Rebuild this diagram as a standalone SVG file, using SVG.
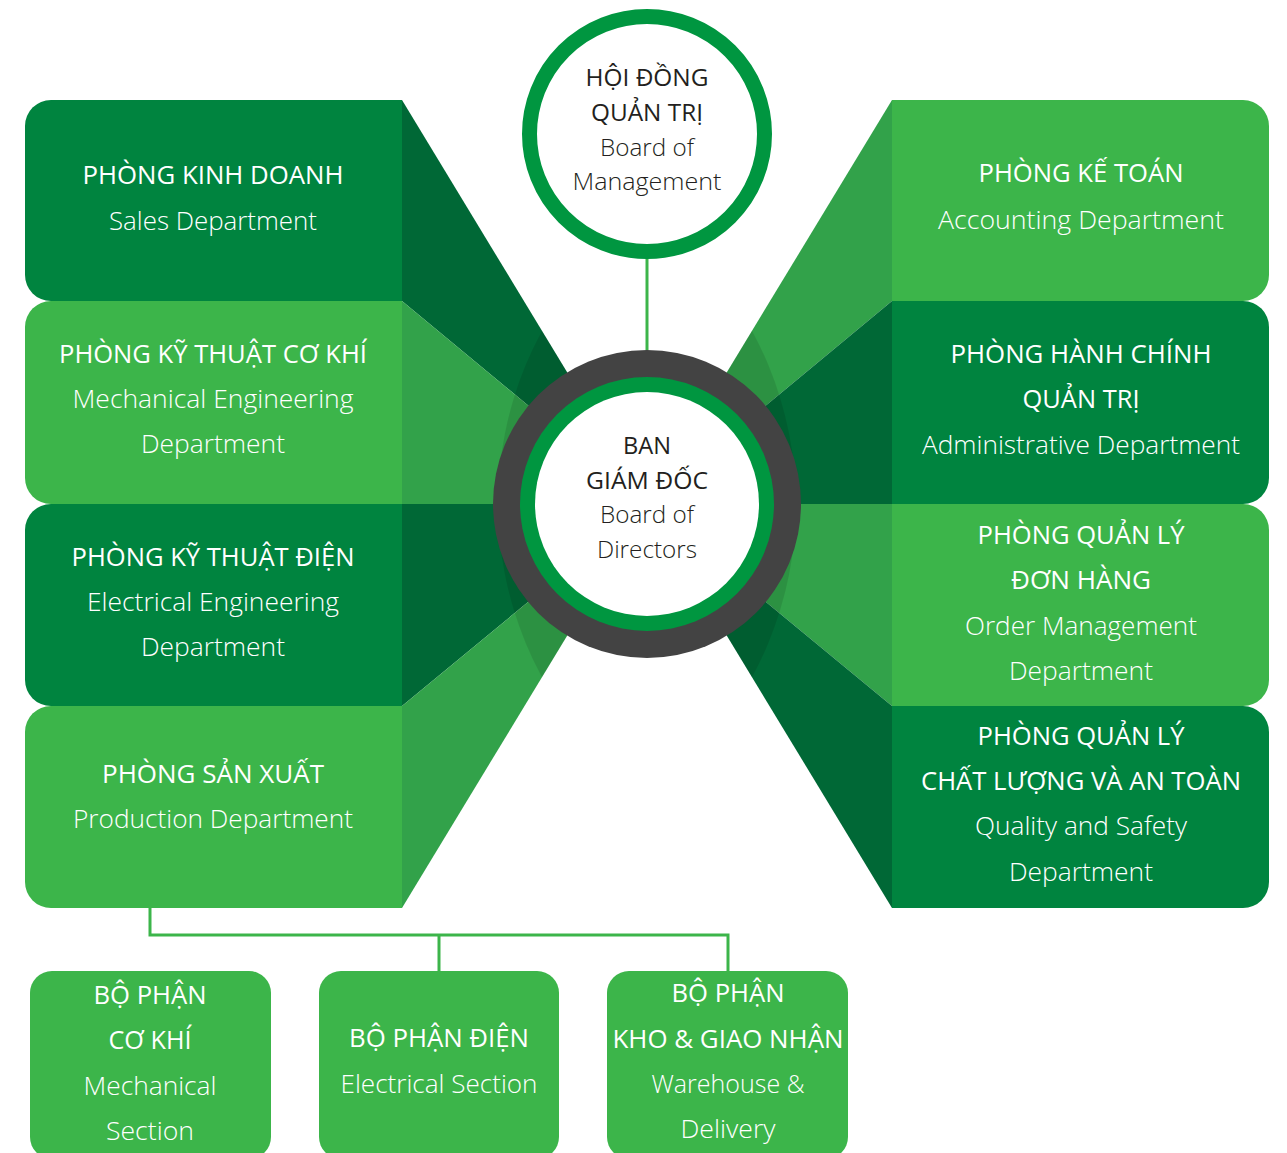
<svg xmlns="http://www.w3.org/2000/svg" width="1287" height="1153" viewBox="0 0 1287 1153">
<style>
.bd{fill:#00843f}
.bl{fill:#3cb54a}
.wd{fill:#006836}
.wl{fill:#32a24a}
.shade{fill:#000000;fill-opacity:0.1}
text{font-family:"Open Sans","Liberation Sans",sans-serif;text-anchor:middle}
.hw{fill:#ffffff;font-size:25px}
.ew{fill:#ffffff;font-size:25px;font-weight:300}
.hk{fill:#231f20;font-size:24px}
.ek{fill:#231f20;font-size:24px;font-weight:300}
.sh{fill:#ffffff;font-size:26px}
.se{fill:#ffffff;font-size:26px;font-weight:300}
.conn{stroke:#3cb54a;stroke-width:3;fill:none}
</style>
<defs>
<clipPath id="wl-clip">
<polygon points="402,100 402,908 647,504"/>
</clipPath>
<clipPath id="wr-clip">
<polygon points="892,100 892,908 647,504"/>
</clipPath>
</defs>

<g id="wedges-left">
<polygon class="wd" points="402,100 402,301 647,504"/>
<polygon class="wl" points="402,301 402,504 647,504"/>
<polygon class="wd" points="402,504 402,706 647,504"/>
<polygon class="wl" points="402,706 402,908 647,504"/>
<circle class="shade" cx="861" cy="504" r="363" clip-path="url(#wl-clip)"/>
</g>
<g id="wedges-right">
<polygon class="wl" points="892,100 892,301 647,504"/>
<polygon class="wd" points="892,301 892,504 647,504"/>
<polygon class="wl" points="892,504 892,706 647,504"/>
<polygon class="wd" points="892,706 892,908 647,504"/>
<circle class="shade" cx="433" cy="504" r="363" clip-path="url(#wr-clip)"/>
</g>

<g id="connectors">
<line class="conn" x1="647" y1="255" x2="647" y2="352"/>
<polyline class="conn" points="150,908 150,935 728,935 728,972"/>
<line class="conn" x1="439" y1="935" x2="439" y2="972"/>
</g>

<g id="sales">
<path class="bd" d="M402,100 H51 A26,26 0 0 0 25,126 V275 A26,26 0 0 0 51,301 H402 Z"/>
<text class="hw" x="213" y="184" textLength="261" lengthAdjust="spacingAndGlyphs">PHÒNG KINH DOANH</text>
<text class="ew" x="213" y="230" textLength="208" lengthAdjust="spacingAndGlyphs">Sales Department</text>
</g>
<g id="mech-eng">
<path class="bl" d="M402,301 H51 A26,26 0 0 0 25,327 V478 A26,26 0 0 0 51,504 H402 Z"/>
<text class="hw" x="213" y="363" textLength="308" lengthAdjust="spacingAndGlyphs">PHÒNG KỸ THUẬT CƠ KHÍ</text>
<text class="ew" x="213" y="408" textLength="281" lengthAdjust="spacingAndGlyphs">Mechanical Engineering</text>
<text class="ew" x="213" y="453" textLength="144" lengthAdjust="spacingAndGlyphs">Department</text>
</g>
<g id="elec-eng">
<path class="bd" d="M402,504 H51 A26,26 0 0 0 25,530 V680 A26,26 0 0 0 51,706 H402 Z"/>
<text class="hw" x="213" y="566" textLength="283" lengthAdjust="spacingAndGlyphs">PHÒNG KỸ THUẬT ĐIỆN</text>
<text class="ew" x="213" y="611" textLength="252" lengthAdjust="spacingAndGlyphs">Electrical Engineering</text>
<text class="ew" x="213" y="656" textLength="144" lengthAdjust="spacingAndGlyphs">Department</text>
</g>
<g id="production">
<path class="bl" d="M402,706 H51 A26,26 0 0 0 25,732 V882 A26,26 0 0 0 51,908 H402 Z"/>
<text class="hw" x="213" y="783" textLength="222" lengthAdjust="spacingAndGlyphs">PHÒNG SẢN XUẤT</text>
<text class="ew" x="213" y="828" textLength="280" lengthAdjust="spacingAndGlyphs">Production Department</text>
</g>

<g id="accounting">
<path class="bl" d="M892,100 H1243 A26,26 0 0 1 1269,126 V275 A26,26 0 0 1 1243,301 H892 Z"/>
<text class="hw" x="1081" y="182" textLength="205" lengthAdjust="spacingAndGlyphs">PHÒNG KẾ TOÁN</text>
<text class="ew" x="1081" y="229" textLength="286" lengthAdjust="spacingAndGlyphs">Accounting Department</text>
</g>
<g id="admin">
<path class="bd" d="M892,301 H1243 A26,26 0 0 1 1269,327 V478 A26,26 0 0 1 1243,504 H892 Z"/>
<text class="hw" x="1081" y="363" textLength="261" lengthAdjust="spacingAndGlyphs">PHÒNG HÀNH CHÍNH</text>
<text class="hw" x="1081" y="408" textLength="117" lengthAdjust="spacingAndGlyphs">QUẢN TRỊ</text>
<text class="ew" x="1081" y="454" textLength="318" lengthAdjust="spacingAndGlyphs">Administrative Department</text>
</g>
<g id="order">
<path class="bl" d="M892,504 H1243 A26,26 0 0 1 1269,530 V680 A26,26 0 0 1 1243,706 H892 Z"/>
<text class="hw" x="1081" y="544" textLength="207" lengthAdjust="spacingAndGlyphs">PHÒNG QUẢN LÝ</text>
<text class="hw" x="1081" y="589" textLength="140" lengthAdjust="spacingAndGlyphs">ĐƠN HÀNG</text>
<text class="ew" x="1081" y="635" textLength="232" lengthAdjust="spacingAndGlyphs">Order Management</text>
<text class="ew" x="1081" y="680" textLength="144" lengthAdjust="spacingAndGlyphs">Department</text>
</g>
<g id="quality">
<path class="bd" d="M892,706 H1243 A26,26 0 0 1 1269,732 V882 A26,26 0 0 1 1243,908 H892 Z"/>
<text class="hw" x="1081" y="745" textLength="207" lengthAdjust="spacingAndGlyphs">PHÒNG QUẢN LÝ</text>
<text class="hw" x="1081" y="790" textLength="320" lengthAdjust="spacingAndGlyphs">CHẤT LƯỢNG VÀ AN TOÀN</text>
<text class="ew" x="1081" y="835" textLength="212" lengthAdjust="spacingAndGlyphs">Quality and Safety</text>
<text class="ew" x="1081" y="881" textLength="144" lengthAdjust="spacingAndGlyphs">Department</text>
</g>

<g id="board-management">
<circle cx="647" cy="134" r="117.5" fill="#ffffff" stroke="#009640" stroke-width="15"/>
<text class="hk" x="647" y="86" textLength="123" lengthAdjust="spacingAndGlyphs">HỘI ĐỒNG</text>
<text class="hk" x="647" y="121" textLength="112" lengthAdjust="spacingAndGlyphs">QUẢN TRỊ</text>
<text class="ek" x="647" y="156" textLength="94" lengthAdjust="spacingAndGlyphs">Board of</text>
<text class="ek" x="647" y="190" textLength="149" lengthAdjust="spacingAndGlyphs">Management</text>
</g>

<g id="board-directors">
<circle cx="647" cy="504" r="154" fill="#434343"/>
<circle cx="647" cy="504" r="127" fill="#009640"/>
<circle cx="647" cy="504" r="112" fill="#ffffff"/>
<text class="hk" x="647" y="454" textLength="48" lengthAdjust="spacingAndGlyphs">BAN</text>
<text class="hk" x="647" y="489" textLength="122" lengthAdjust="spacingAndGlyphs">GIÁM ĐỐC</text>
<text class="ek" x="647" y="523" textLength="94" lengthAdjust="spacingAndGlyphs">Board of</text>
<text class="ek" x="647" y="558" textLength="100" lengthAdjust="spacingAndGlyphs">Directors</text>
</g>

<g id="mech-section">
<rect class="bl" x="30" y="971" width="241" height="188" rx="22"/>
<text class="sh" x="150" y="1004" textLength="113" lengthAdjust="spacingAndGlyphs">BỘ PHẬN</text>
<text class="sh" x="150" y="1049" textLength="83" lengthAdjust="spacingAndGlyphs">CƠ KHÍ</text>
<text class="se" x="150" y="1095" textLength="133" lengthAdjust="spacingAndGlyphs">Mechanical</text>
<text class="se" x="150" y="1140" textLength="88" lengthAdjust="spacingAndGlyphs">Section</text>
</g>
<g id="elec-section">
<rect class="bl" x="319" y="971" width="240" height="188" rx="22"/>
<text class="sh" x="439" y="1047" textLength="180" lengthAdjust="spacingAndGlyphs">BỘ PHẬN ĐIỆN</text>
<text class="se" x="439" y="1093" textLength="197" lengthAdjust="spacingAndGlyphs">Electrical Section</text>
</g>
<g id="warehouse-section">
<rect class="bl" x="607" y="971" width="241" height="188" rx="22"/>
<text class="sh" x="728" y="1002" textLength="113" lengthAdjust="spacingAndGlyphs">BỘ PHẬN</text>
<text class="sh" x="728" y="1048" textLength="231" lengthAdjust="spacingAndGlyphs">KHO &amp; GIAO NHẬN</text>
<text class="se" x="728" y="1093" textLength="153" lengthAdjust="spacingAndGlyphs">Warehouse &amp;</text>
<text class="se" x="728" y="1138" textLength="95" lengthAdjust="spacingAndGlyphs">Delivery</text>
</g>
</svg>
